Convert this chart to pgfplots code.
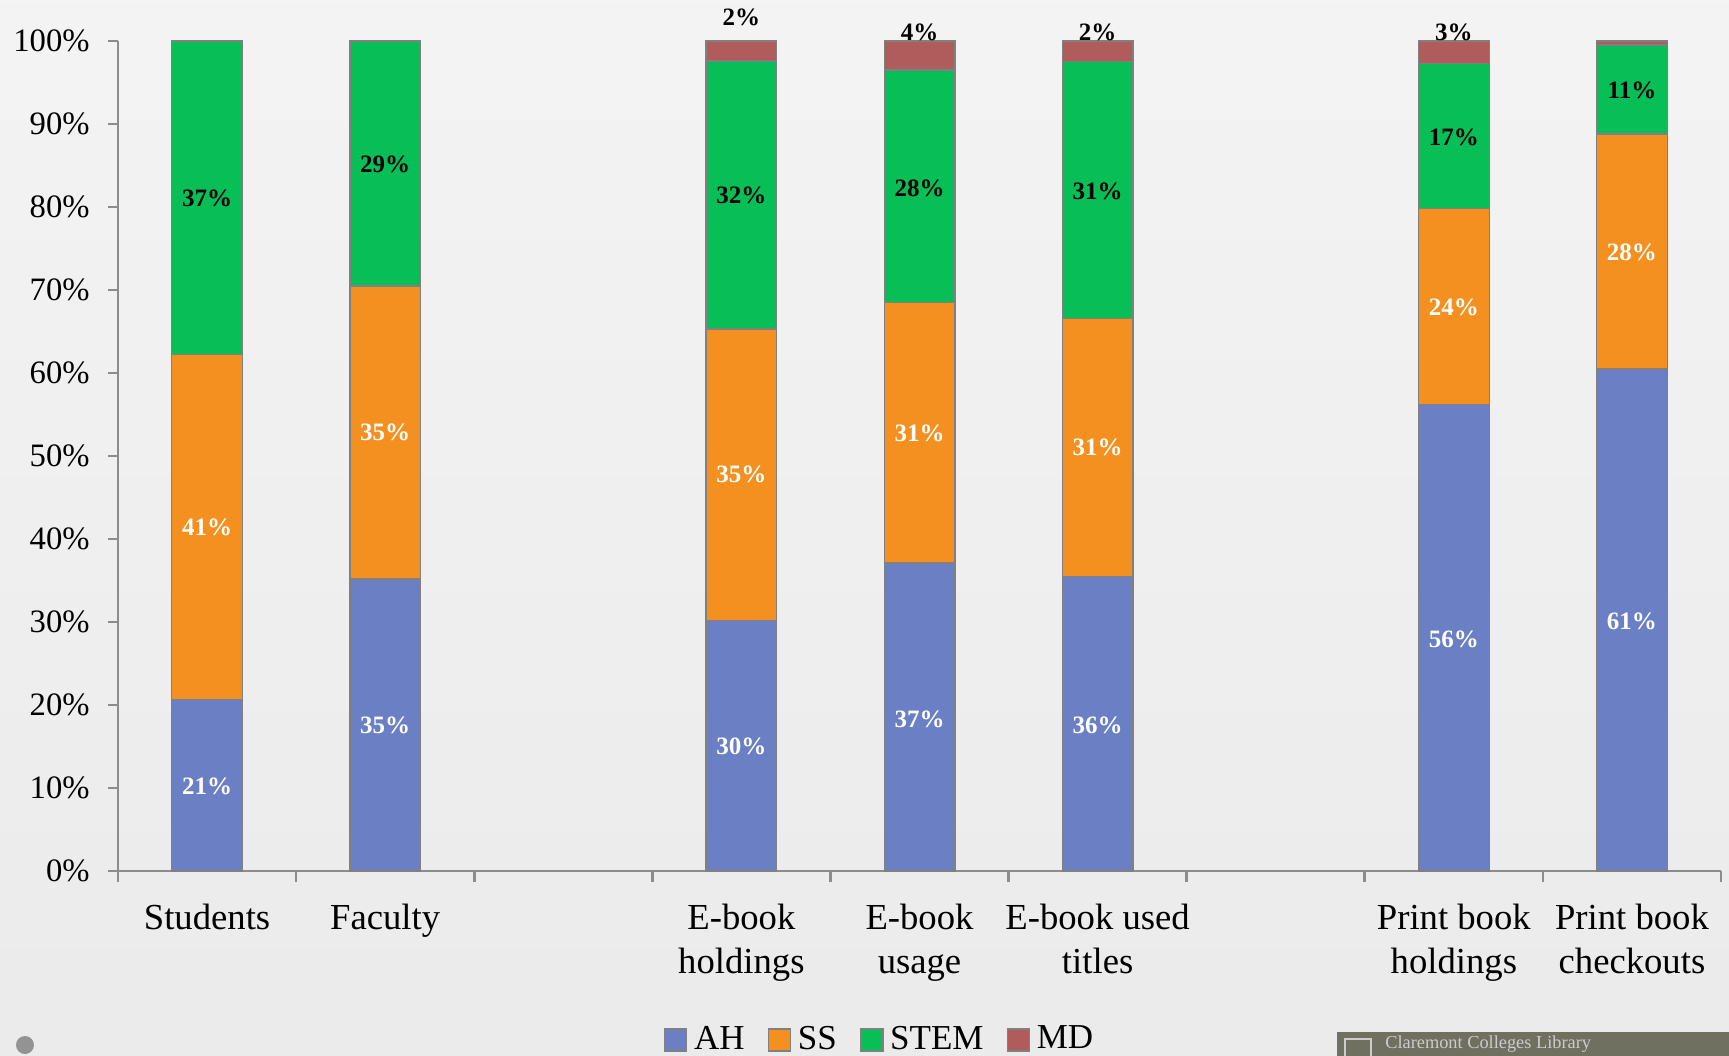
\documentclass[border=0pt]{standalone}
\usepackage{pgfplots}
\pgfplotsset{compat=1.18}
\usepackage{fontspec}
\setmainfont{Liberation Serif}
\definecolor{ah}{HTML}{6A7FC4}
\definecolor{ss}{HTML}{F3901F}
\definecolor{stem}{HTML}{07BE57}
\definecolor{md}{HTML}{B05C5C}
\definecolor{axgray}{HTML}{8C8C8C}
\definecolor{logo}{HTML}{707060}
\begin{document}
\begin{tikzpicture}
\shade[top color=gray!9, middle color=white, bottom color=gray!16] (-35.4pt,-55.2pt) rectangle (483.3pt,261.3pt);
\fill[gray!85] (-27.9pt,-52.2pt) circle (2.7pt);
\begin{scope}
\clip (-35.4pt,-55.2pt) rectangle (483.3pt,261.3pt);
\fill[logo] (365.7pt,-48.3pt) rectangle (490pt,-60pt);
\draw[gray!40, line width=0.6pt] (368pt,-50.3pt) rectangle (376pt,-56pt);
\node[anchor=west, text=gray!40, font=\fontsize{5.5}{6}\selectfont\scshape, inner sep=0pt] at (380pt,-51.9pt) {Claremont Colleges Library};
\end{scope}
\begin{axis}[
  at={(0pt,0pt)}, anchor=south west, scale only axis,
  width=480.9pt, height=249pt,
  ybar stacked, bar width=21.2pt,
  xmin=-0.5, xmax=8.5, ymin=0, ymax=100,
  axis x line*=bottom, axis y line*=left,
  axis line style={axgray, line width=0.8pt, -},
  tick align=outside,
  xtick={0,1,3,4,5,7,8},
  xticklabels={Students, Faculty, {E-book\\holdings}, {E-book\\usage}, {E-book used\\titles}, {Print book\\holdings}, {Print book\\checkouts}},
  xticklabel style={align=center, font=\fontsize{11}{13.2}\selectfont, yshift=-3.5pt},
  major x tick style={draw=none},
  minor xtick={-0.5,0.5,...,8.5},
  minor x tick style={axgray, line width=0.8pt},
  minor tick length=3.3pt,
  ytick={0,10,...,100},
  major tick length=3pt,
  y tick style={axgray, line width=0.8pt},
  yticklabel={\pgfmathprintnumber[assume math mode=true]{\tick}\%},
  yticklabel style={font=\fontsize{9.8}{11}\selectfont, xshift=-2pt},
  legend style={at={(0.4766,-0.2036)}, anchor=center, legend columns=-1, draw=none, fill=none,
    font=\fontsize{10.5}{12}\selectfont, /tikz/every even column/.append style={column sep=5pt}},
  legend image code/.code={\draw[#1, draw=gray] (0pt,-3.3pt) rectangle (6.6pt,3.3pt);},
  clip=false,
]
\addplot[draw=gray, fill=ah, line width=0.4pt] coordinates {(0,20.7) (1,35.2) (3,30.2) (4,37.1) (5,35.5) (7,56.2) (8,60.5)};
\addplot[draw=gray, fill=ss, line width=0.4pt] coordinates {(0,41.5) (1,35.3) (3,35.1) (4,31.4) (5,31.1) (7,23.6) (8,28.3)};
\addplot[draw=gray, fill=stem, line width=0.4pt] coordinates {(0,37.8) (1,29.5) (3,32.3) (4,28.0) (5,30.9) (7,17.5) (8,10.7)};
\addplot[draw=gray, fill=md, line width=0.4pt] coordinates {(0,0) (1,0) (3,2.4) (4,3.5) (5,2.5) (7,2.7) (8,0.5)};
\legend{AH, SS, STEM, MD}
\end{axis}
\begin{axis}[
  at={(0pt,0pt)}, anchor=south west, scale only axis,
  width=480.9pt, height=249pt,
  xmin=-0.5, xmax=8.5, ymin=0, ymax=100,
  hide axis, clip=false,
  nodes near coords, nodes near coords align=center,
  point meta=explicit symbolic,
]
\addplot[draw=none, mark=none, every node near coord/.style={font=\fontsize{7.5}{9}\selectfont\bfseries, text=white, anchor=center}]
 coordinates {(0,10.2)[21\%] (1,17.5)[35\%] (3,15.0)[30\%] (4,18.3)[37\%] (5,17.5)[36\%] (7,27.9)[56\%] (8,30.1)[61\%]};
\addplot[draw=none, mark=none, every node near coord/.style={font=\fontsize{7.5}{9}\selectfont\bfseries, text=white, anchor=center}]
 coordinates {(0,41.4)[41\%] (1,52.9)[35\%] (3,47.8)[35\%] (4,52.7)[31\%] (5,51.0)[31\%] (7,67.9)[24\%] (8,74.5)[28\%]};
\addplot[draw=none, mark=none, every node near coord/.style={font=\fontsize{7.5}{9}\selectfont\bfseries, text=black, anchor=center}]
 coordinates {(0,81.0)[37\%] (1,85.1)[29\%] (3,81.4)[32\%] (4,82.2)[28\%] (5,81.9)[31\%] (7,88.4)[17\%] (8,94.0)[11\%]};
\addplot[draw=none, mark=none, every node near coord/.style={font=\fontsize{7.5}{9}\selectfont\bfseries, text=black, anchor=center}]
 coordinates {(3,102.9)[2\%] (4,101.0)[4\%] (5,101.0)[2\%] (7,101.0)[3\%]};
\end{axis}
\pgfresetboundingbox
\path[use as bounding box] (-35.4pt,-55.2pt) rectangle (483.3pt,261.3pt);
\end{tikzpicture}
\end{document}
